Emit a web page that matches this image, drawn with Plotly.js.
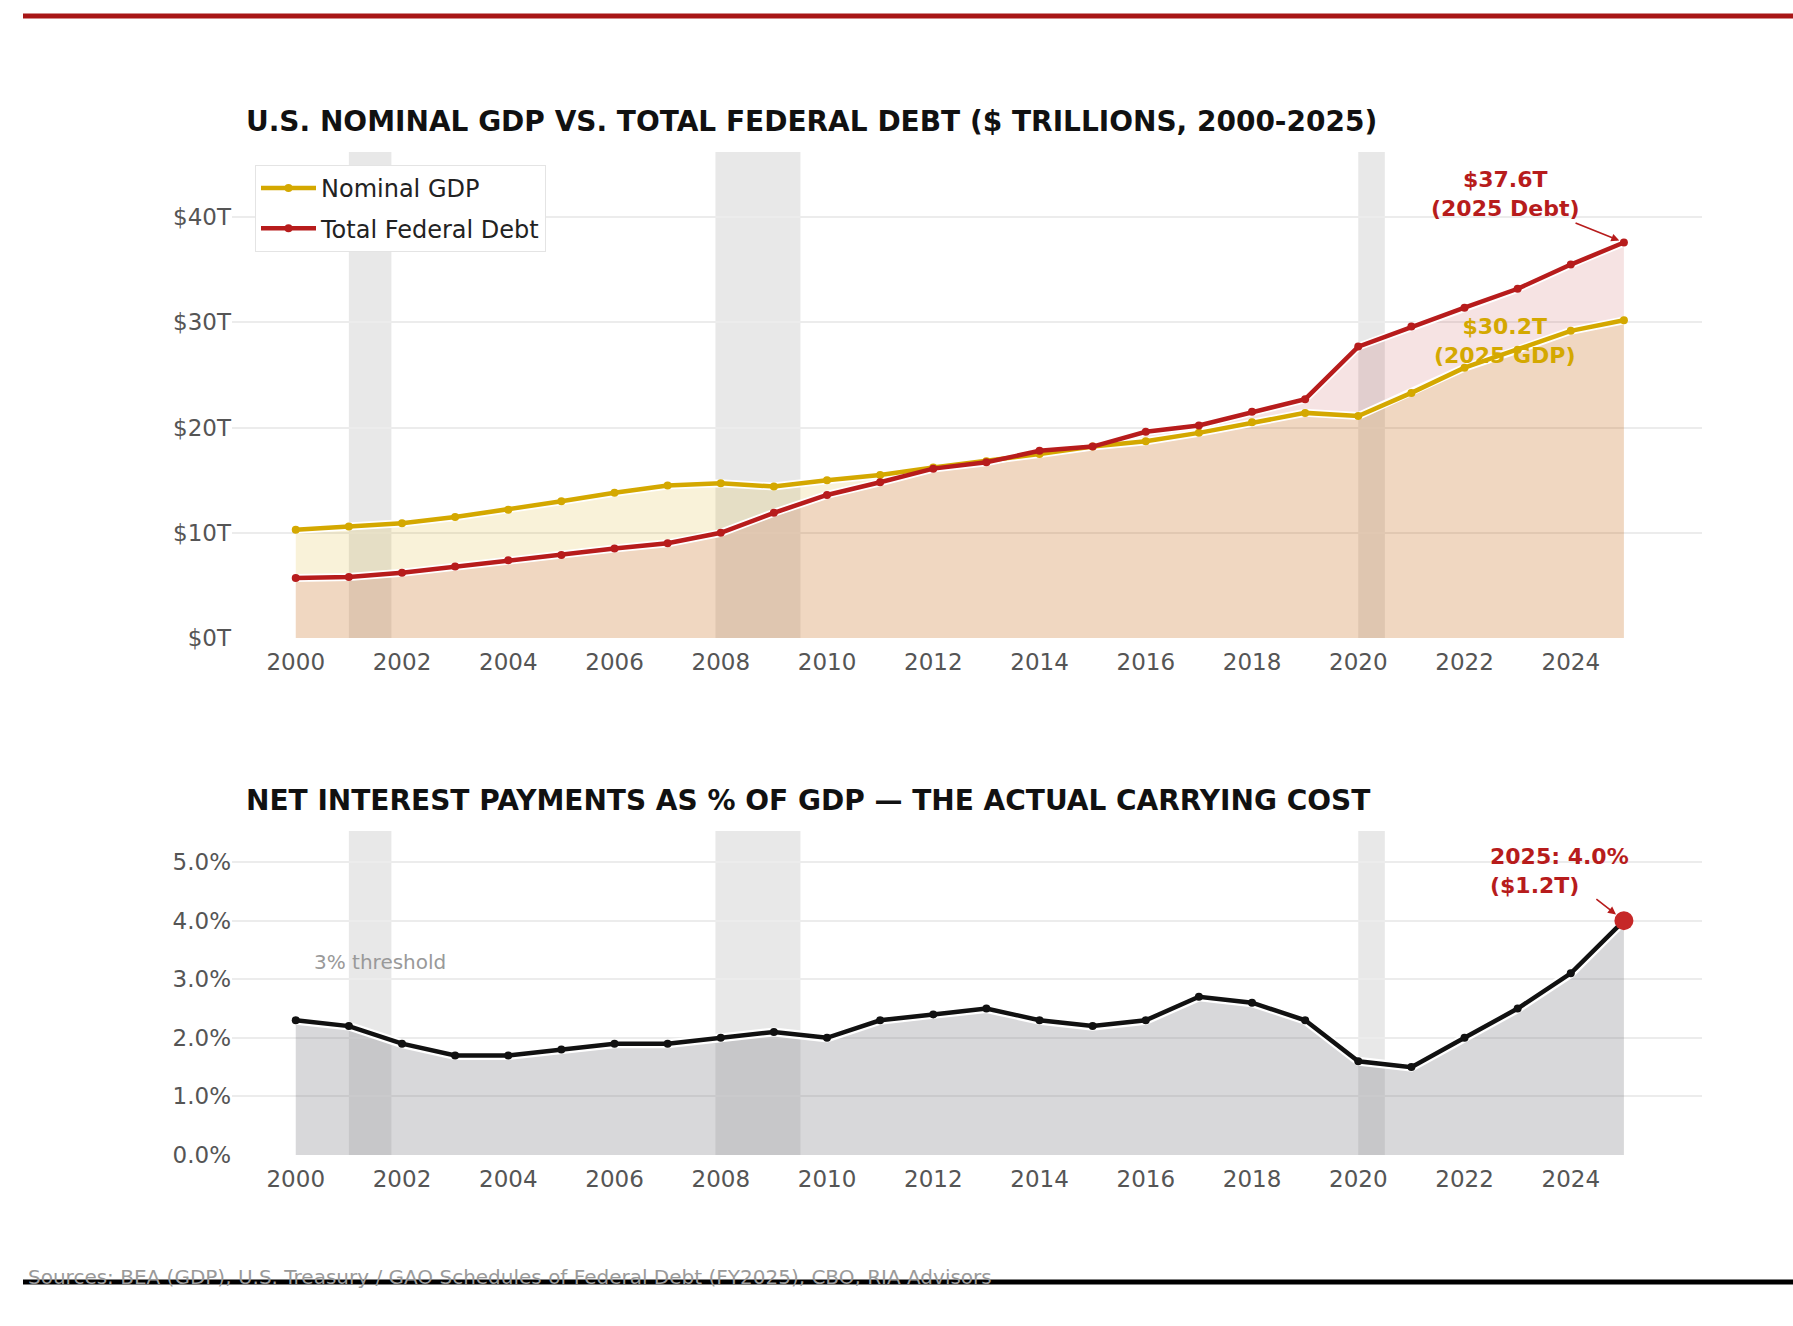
<!DOCTYPE html>
<html>
<head>
<meta charset="utf-8">
<script src="https://cdn.plot.ly/plotly-3.0.1.min.js"></script>
<style>html,body{margin:0;padding:0;background:#fff;}#chart{width:1793px;height:1326px;}</style>
</head>
<body>
<div id="chart"></div>
<script>
// ---------- DATA ----------
const years = [2000,2001,2002,2003,2004,2005,2006,2007,2008,2009,2010,2011,2012,2013,2014,2015,2016,2017,2018,2019,2020,2021,2022,2023,2024,2025];
const gdpTrillions = [10.3,10.6,10.9,11.5,12.2,13.0,13.8,14.5,14.7,14.4,15.0,15.5,16.2,16.8,17.5,18.2,18.7,19.5,20.5,21.4,21.1,23.3,25.7,27.4,29.2,30.2];
const debtTrillions = [5.7,5.8,6.2,6.8,7.4,7.9,8.5,9.0,10.0,11.9,13.6,14.8,16.1,16.7,17.8,18.2,19.6,20.2,21.5,22.7,27.7,29.6,31.4,33.2,35.5,37.6];
const interestPctGdp = [2.3,2.2,1.9,1.7,1.7,1.8,1.9,1.9,2.0,2.1,2.0,2.3,2.4,2.5,2.3,2.2,2.3,2.7,2.6,2.3,1.6,1.5,2.0,2.5,3.1,4.0];
const recessionStart = [2001.0, 2007.9, 2020.0];
const recessionEnd   = [2001.8, 2009.5, 2020.5];
const xTickVals = [2000,2002,2004,2006,2008,2010,2012,2014,2016,2018,2020,2022,2024];
const debtTickVals = [0,10,20,30,40];
const debtTickText = ['$0T','$10T','$20T','$30T','$40T'];
const pctTickVals = [0,1,2,3,4,5];
const pctTickText = ['0.0%','1.0%','2.0%','3.0%','4.0%','5.0%'];
const interest2025Dollars = '$1.2T';
const title1 = 'U.S. NOMINAL GDP VS. TOTAL FEDERAL DEBT ($ TRILLIONS, 2000-2025)';
const title2 = 'NET INTEREST PAYMENTS AS % OF GDP \u2014 THE ACTUAL CARRYING COST';
const sourcesText = 'Sources: BEA (GDP), U.S. Treasury / GAO Schedules of Federal Debt (FY2025), CBO, RIA Advisors';

// ---------- STYLE ----------
const W = 1793, H = 1326;
const GOLD = '#d4a800', RED = '#b71c1c', FONT = 'DejaVu Sans';
const px = v => v / W, py = v => 1 - v / H;
const last = arr => arr[arr.length - 1];
const lastYear = last(years);

const traces = [
  {x: years, y: gdpTrillions, xaxis: 'x', yaxis: 'y', mode: 'lines', fill: 'tozeroy',
   fillcolor: 'rgba(212,168,0,0.15)', line: {width: 0}, showlegend: false, hoverinfo: 'skip'},
  {x: years, y: debtTrillions, xaxis: 'x', yaxis: 'y', mode: 'lines', fill: 'tozeroy',
   fillcolor: 'rgba(185,28,28,0.12)', line: {width: 0}, showlegend: false, hoverinfo: 'skip'},
  {x: years, y: gdpTrillions, xaxis: 'x', yaxis: 'y', mode: 'lines', line: {color: '#fff', width: 8},
   showlegend: false, hoverinfo: 'skip'},
  {x: years, y: debtTrillions, xaxis: 'x', yaxis: 'y', mode: 'lines', line: {color: '#fff', width: 8},
   showlegend: false, hoverinfo: 'skip'},
  {x: years, y: gdpTrillions, xaxis: 'x', yaxis: 'y', mode: 'lines+markers', name: 'Nominal GDP',
   legendgroup: 'a', line: {color: GOLD, width: 4.5}, marker: {color: GOLD, size: 8}},
  {x: years, y: debtTrillions, xaxis: 'x', yaxis: 'y', mode: 'lines+markers', name: 'Total Federal Debt',
   legendgroup: 'b', line: {color: RED, width: 4.5}, marker: {color: RED, size: 8}},
  {x: years, y: interestPctGdp, xaxis: 'x2', yaxis: 'y2', mode: 'lines', fill: 'tozeroy',
   fillcolor: 'rgba(110,110,120,0.27)', line: {width: 0}, showlegend: false, hoverinfo: 'skip'},
  {x: years, y: interestPctGdp, xaxis: 'x2', yaxis: 'y2', mode: 'lines', line: {color: '#fff', width: 9},
   showlegend: false, hoverinfo: 'skip'},
  {x: years, y: interestPctGdp, xaxis: 'x2', yaxis: 'y2', mode: 'lines+markers', name: 'Net interest',
   line: {color: '#111', width: 4.5}, marker: {color: '#111', size: 8}, showlegend: false},
  {x: [lastYear], y: [last(interestPctGdp)], xaxis: 'x2', yaxis: 'y2', mode: 'markers',
   marker: {color: '#c62828', size: 19}, showlegend: false}
];

const shapes = [];
recessionStart.forEach((s, i) => {
  ['', '2'].forEach(k => {
    shapes.push({type: 'rect', xref: 'x' + k, yref: 'y' + k + ' domain', x0: s, x1: recessionEnd[i],
      y0: 0, y1: 1, fillcolor: 'rgba(128,128,128,0.18)', line: {width: 0}, layer: 'below'});
  });
});
shapes.push({type: 'rect', xref: 'paper', yref: 'paper', x0: px(23), x1: 1, y0: py(18.5), y1: py(13.5),
  fillcolor: '#a81616', line: {width: 0}, layer: 'above'});
shapes.push({type: 'rect', xref: 'paper', yref: 'paper', x0: px(23), x1: 1, y0: py(1284.5), y1: py(1279.5),
  fillcolor: '#000', line: {width: 0}, layer: 'above'});

const axisCommon = {
  range: [1998.8, 2026.47], tickvals: xTickVals, showgrid: false, zeroline: false, showline: false,
  ticks: 'outside', ticklen: 3, tickcolor: 'rgba(0,0,0,0)', tickfont: {family: FONT, size: 23, color: '#555'},
  fixedrange: true
};
const yCommon = {
  showgrid: true, gridcolor: '#ececec', gridwidth: 2, zeroline: false, showline: false,
  ticks: '', tickfont: {family: FONT, size: 23, color: '#555'},
  fixedrange: true
};

const annotations = [
  {xref: 'paper', yref: 'paper', x: px(244), y: py(121), xanchor: 'left', yanchor: 'middle', showarrow: false,
   text: '<b>' + title1 + '</b>', font: {family: FONT, size: 28, color: '#111'}},
  {xref: 'paper', yref: 'paper', x: px(244), y: py(800), xanchor: 'left', yanchor: 'middle', showarrow: false,
   text: '<b>' + title2 + '</b>', font: {family: FONT, size: 28, color: '#111'}},
  {xref: 'x', yref: 'y', x: lastYear, y: last(debtTrillions), ax: -119, ay: -48,
   text: '<b>$' + last(debtTrillions).toFixed(1) + 'T</b><br><b>(' + lastYear + ' Debt)</b>',
   font: {family: FONT, size: 22, color: RED}, showarrow: true, arrowhead: 2, arrowsize: 1, arrowwidth: 1.6,
   arrowcolor: RED, standoff: 5},
  {xref: 'x', yref: 'y', x: lastYear, y: last(gdpTrillions), ax: -119, ay: 21,
   text: '<b>$' + last(gdpTrillions).toFixed(1) + 'T</b><br><b>(' + lastYear + ' GDP)</b>',
   font: {family: FONT, size: 22, color: GOLD}, showarrow: true, arrowwidth: 0.1, arrowcolor: 'rgba(0,0,0,0)'},
  {xref: 'x2', yref: 'y2', x: lastYear, y: last(interestPctGdp), ax: -64, ay: -50, align: 'left',
   text: '<b>' + lastYear + ': ' + last(interestPctGdp).toFixed(1) + '%</b><br><b>(' + interest2025Dollars + ')</b>',
   font: {family: FONT, size: 22, color: RED}, showarrow: true, arrowhead: 2, arrowsize: 1, arrowwidth: 1.6,
   arrowcolor: RED, standoff: 10},
  {xref: 'x2', yref: 'y2', x: 2000.3, y: 3, xanchor: 'left', yanchor: 'bottom', yshift: 3, showarrow: false,
   text: '3% threshold', font: {family: FONT, size: 20, color: '#999'}},
  {xref: 'paper', yref: 'paper', x: px(26), y: py(1291), xanchor: 'left', yanchor: 'bottom', showarrow: false,
   text: sourcesText, font: {family: FONT, size: 20, color: '#999'}}
];

const layout = {
  width: W, height: H, margin: {l: 0, r: 0, t: 0, b: 0, pad: 0},
  paper_bgcolor: '#fff', plot_bgcolor: '#fff', font: {family: FONT},
  xaxis: Object.assign({}, axisCommon, {domain: [px(232), px(1702)], anchor: 'y'}),
  yaxis: Object.assign({}, yCommon, {domain: [py(638), py(152)], range: [0, 46.2], tickvals: debtTickVals,
    ticktext: debtTickText, anchor: 'x'}),
  xaxis2: Object.assign({}, axisCommon, {domain: [px(232), px(1702)], anchor: 'y2'}),
  yaxis2: Object.assign({}, yCommon, {domain: [py(1155), py(831)], range: [0, 5.53], tickvals: pctTickVals,
    ticktext: pctTickText, anchor: 'x2'}),
  showlegend: true,
  legend: {x: px(255), y: py(165), xanchor: 'left', yanchor: 'top', bgcolor: '#fff', bordercolor: '#e4e4e4',
    borderwidth: 1, font: {family: FONT, size: 24, color: '#222'}, tracegroupgap: 6, itemwidth: 55},
  shapes: shapes, annotations: annotations, hovermode: false
};

Plotly.newPlot('chart', traces, layout, {displayModeBar: false, staticPlot: true});
</script>
</body>
</html>
